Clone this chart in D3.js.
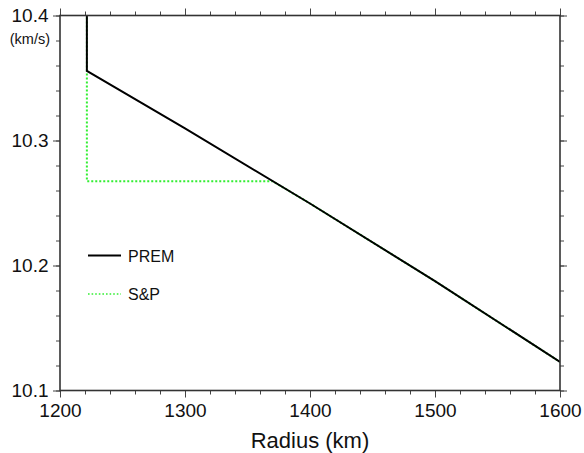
<!DOCTYPE html>
<html>
<head>
<meta charset="utf-8">
<script src="https://cdn.jsdelivr.net/npm/d3@7"></script>
<style>
  body { margin: 0; background: #fff; }
  text { font-family: "Liberation Sans", Arial, Helvetica, sans-serif; fill: #111; }
</style>
</head>
<body>
<svg id="chart" width="584" height="453"></svg>
<script>
// data (radius in km, Vp in km/s)
var premRadius = [1221.5, 1221.5, 1300, 1400, 1500, 1600];
var premVp     = [11.0, 10.3557, 10.3097, 10.2496, 10.1875, 10.1229];
var spRadius   = [1221.5, 1221.5, 1370, 1400, 1500, 1600];
var spVp       = [11.0, 10.2675, 10.2675, 10.2496, 10.1875, 10.1229];
var xTicks = [1200, 1300, 1400, 1500, 1600];
var yTicks = [10.1, 10.2, 10.3, 10.4];
var legendNames = ["PREM", "S&P"];

var margin = {top: 15.5, right: 24, bottom: 62.5, left: 60};
var width = 584 - margin.left - margin.right;
var height = 453 - margin.top - margin.bottom;

var svg = d3.select("#chart");
var g = svg.append("g")
    .attr("transform", "translate(" + margin.left + "," + margin.top + ")");

var x = d3.scaleLinear().domain([1200, 1600]).range([0, width]);
var y = d3.scaleLinear().domain([10.1, 10.4]).range([height, 0]);

g.append("clipPath").attr("id", "clip")
  .append("rect").attr("width", width).attr("height", height);

var line = d3.line()
    .x(function(d) { return x(d[0]); })
    .y(function(d) { return y(d[1]); });

var prem = premRadius.map(function(r, i) { return [r, premVp[i]]; });
var sp = spRadius.map(function(r, i) { return [r, spVp[i]]; });

// S&P under PREM
g.append("path")
    .datum(sp)
    .attr("clip-path", "url(#clip)")
    .attr("d", line)
    .attr("fill", "none")
    .attr("stroke", "#33ee33")
    .attr("stroke-width", 2)
    .attr("stroke-dasharray", "2,2");

g.append("path")
    .datum(prem)
    .attr("clip-path", "url(#clip)")
    .attr("d", line)
    .attr("fill", "none")
    .attr("stroke", "#000")
    .attr("stroke-width", 2);

// minor ticks
var xMinor = d3.range(1200, 1601, 20);
var yMinor = d3.range(0, 16).map(function(i) { return 10.1 + i * 0.02; });

function styleAxis(sel) {
  sel.select(".domain").remove();
  sel.selectAll("line").attr("stroke", "#444").attr("stroke-width", 1);
  sel.selectAll("text").style("font-size", "19px").attr("fill", "#111");
}

g.append("g").attr("transform", "translate(0," + height + ")")
    .call(d3.axisBottom(x).tickValues(xMinor).tickSize(4).tickFormat(""))
    .call(styleAxis);
g.append("g")
    .call(d3.axisTop(x).tickValues(xMinor).tickSize(4).tickFormat(""))
    .call(styleAxis);
g.append("g")
    .call(d3.axisLeft(y).tickValues(yMinor).tickSize(4).tickFormat(""))
    .call(styleAxis);
g.append("g").attr("transform", "translate(" + width + ",0)")
    .call(d3.axisRight(y).tickValues(yMinor).tickSize(4).tickFormat(""))
    .call(styleAxis);

// major ticks with labels
g.append("g").attr("transform", "translate(0," + height + ")")
    .call(d3.axisBottom(x).tickValues(xTicks).tickSize(7).tickPadding(6).tickFormat(d3.format("d")))
    .call(styleAxis);
g.append("g")
    .call(d3.axisTop(x).tickValues(xTicks).tickSize(7).tickFormat(""))
    .call(styleAxis);
g.append("g")
    .call(d3.axisLeft(y).tickValues(yTicks).tickSize(7).tickPadding(4.5).tickFormat(d3.format(".1f")))
    .call(styleAxis);
g.append("g").attr("transform", "translate(" + width + ",0)")
    .call(d3.axisRight(y).tickValues(yTicks).tickSize(7).tickFormat(""))
    .call(styleAxis);

// frame
g.append("rect")
    .attr("width", width).attr("height", height)
    .attr("fill", "none")
    .attr("stroke", "#333")
    .attr("stroke-width", 1.6);

// unit label
g.append("text")
    .attr("x", -10).attr("y", 28)
    .attr("text-anchor", "end")
    .style("font-size", "14.5px")
    .text("(km/s)");

// x title
g.append("text")
    .attr("x", width / 2).attr("y", height + 57)
    .attr("text-anchor", "middle")
    .style("font-size", "22px")
    .text("Radius (km)");

// legend
var legend = g.append("g").attr("transform", "translate(28,240)");
legend.append("line")
    .attr("x1", 0).attr("x2", 33).attr("y1", 0).attr("y2", 0)
    .attr("stroke", "#000").attr("stroke-width", 2);
legend.append("line")
    .attr("x1", 0).attr("x2", 33).attr("y1", 38.5).attr("y2", 38.5)
    .attr("stroke", "#33ee33").attr("stroke-width", 1.6)
    .attr("stroke-dasharray", "1.6,2");
legend.selectAll("text.lab")
    .data(legendNames)
    .enter().append("text")
    .attr("class", "lab")
    .attr("x", 40)
    .attr("y", function(d, i) { return 6 + i * 38.5; })
    .style("font-size", "16px")
    .text(function(d) { return d; });
</script>
</body>
</html>
